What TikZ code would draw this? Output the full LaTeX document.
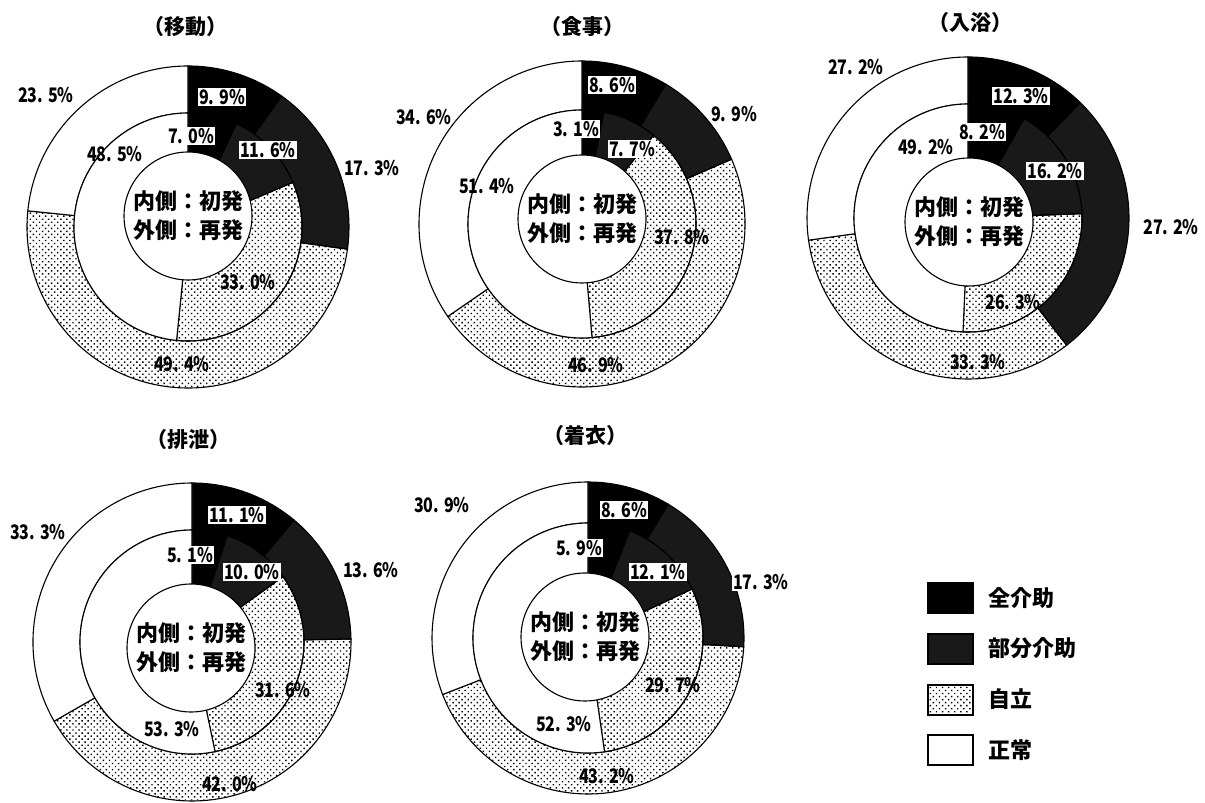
\documentclass[tikz,border=0pt]{standalone}
\usepackage{fontspec}
\setmainfont{Noto Sans CJK JP}
\newfontfamily\numfont[FakeStretch=0.8]{Noto Sans CJK JP}
\usetikzlibrary{patterns.meta}
\tikzset{
  segline/.style={draw=black, line width=1.1pt},
  dotfill/.style={pattern={Dots[distance=4.3pt,radius=1pt,angle=45]}},
  zen/.style={segline, fill=black},
  bubun/.style={segline, fill=black!90},
  jiritsu/.style={segline, dotfill},
  seijo/.style={segline, fill=white},
  hole/.style={draw=black, line width=1.1pt, fill=white, circle, minimum size=128pt, inner sep=0pt,
               font=\bfseries\fontsize{22}{29}\selectfont, align=center},
  pct/.style={font=\numfont\bfseries\fontsize{20}{22}\selectfont, inner sep=1pt},
  pctbox/.style={pct, fill=white},
  ttl/.style={font=\bfseries\fontsize{21}{24}\selectfont, inner sep=0pt},
  legbox/.style={draw=black, line width=1.5pt, minimum width=45pt, minimum height=30pt, inner sep=0pt},
  legtxt/.style={font=\bfseries\fontsize{22}{24}\selectfont, anchor=west, inner sep=0pt},
}
% ring segment: cx, cy, r-in, r-out, from %, to %, style
\newcommand\rseg[7]{%
  \pgfmathsetmacro\ringA{90-3.6*#5}%
  \pgfmathsetmacro\ringB{90-3.6*#6}%
  \draw[#7] ([shift={(\ringA:#4)}]#1,#2) arc[start angle=\ringA, end angle=\ringB, radius=#4]
    -- ([shift={(\ringB:#3)}]#1,#2) arc[start angle=\ringB, end angle=\ringA, radius=#3] -- cycle;}
% outer ring: cx, cy, R, rm, cumulative 1,2,3
\newcommand\outerring[7]{%
  \rseg{#1}{#2}{#4}{#3}{0}{#5}{zen}%
  \rseg{#1}{#2}{#4}{#3}{#5}{#6}{bubun}%
  \rseg{#1}{#2}{#4}{#3}{#6}{#7}{jiritsu}%
  \rseg{#1}{#2}{#4}{#3}{#7}{100}{seijo}}
% inner ring: cx, cy, rm, cumulative 1,2,3
\newcommand\innerring[6]{%
  \rseg{#1}{#2}{38}{#3}{0}{#4}{zen}%
  \rseg{#1}{#2}{38}{#3}{#4}{#5}{bubun}%
  \rseg{#1}{#2}{38}{#3}{#5}{#6}{jiritsu}%
  \rseg{#1}{#2}{38}{#3}{#6}{100}{seijo}}
\begin{document}
\begin{tikzpicture}[x=1pt,y=1pt]
\fill[white] (0,0) rectangle (1205,803);
\useasboundingbox (0,0) rectangle (1205,803);

% ---------- Chart 1: 移動 ----------
\outerring{188}{576}{161}{114}{9.9}{27.2}{76.6}
\innerring{188}{576}{114}{7.0}{18.6}{51.6}
\node[hole] (h1) at (188,587) {内側：初発\\外側：再発};
\node[ttl] (t1) at (185,776) {（移動）};
\node[pct] (p1a) at (46,708) {23. 5\%};
\node[pctbox] (p1b) at (222,706) {9. 9\%};
\node[pctbox] (p1c) at (191,667) {7. 0\%};
\node[pct] (p1d) at (115,649) {48. 5\%};
\node[pctbox] (p1e) at (268,653) {11. 6\%};
\node[pct] (p1f) at (372,635) {17. 3\%};
\node[pct] (p1g) at (248,521) {33. 0\%};
\node[pct] (p1h) at (182,439) {49. 4\%};

% ---------- Chart 2: 食事 ----------
\outerring{582}{579}{163}{114}{8.6}{18.5}{65.4}
\innerring{582}{579}{114}{3.1}{10.8}{48.6}
\node[hole] (h2) at (582,584) {内側：初発\\外側：再発};
\node[ttl] (t2) at (582,776) {（食事）};
\node[pct] (p2a) at (424,686) {34. 6\%};
\node[pctbox] (p2b) at (612,718) {8. 6\%};
\node[pct] (p2c) at (734,689) {9. 9\%};
\node[pctbox] (p2d) at (576,674) {3. 1\%};
\node[pctbox] (p2e) at (632,654) {7. 7\%};
\node[pct] (p2f) at (487,617) {51. 4\%};
\node[pct] (p2g) at (682,566) {37. 8\%};
\node[pct] (p2h) at (596,438) {46. 9\%};

% ---------- Chart 3: 入浴 ----------
\outerring{968}{585}{161}{114}{12.3}{39.5}{72.8}
\innerring{968}{585}{114}{8.2}{24.4}{50.7}
\node[hole] (h3) at (969,581) {内側：初発\\外側：再発};
\node[ttl] (t3) at (970,780) {（入浴）};
\node[pct] (p3a) at (856,736) {27. 2\%};
\node[pctbox] (p3b) at (1021,707) {12. 3\%};
\node[pctbox] (p3c) at (982,671) {8. 2\%};
\node[pct] (p3d) at (926,656) {49. 2\%};
\node[pctbox] (p3e) at (1055,632) {16. 2\%};
\node[pct] (p3f) at (1171,576) {27. 2\%};
\node[pct] (p3g) at (1013,501) {26. 3\%};
\node[pct] (p3h) at (978,441) {33. 3\%};

% ---------- Chart 4: 排泄 ----------
\outerring{192}{161}{159}{112}{11.1}{24.7}{66.7}
\innerring{192}{161}{112}{5.1}{15.1}{46.7}
\node[hole] (h4) at (191,155) {内側：初発\\外側：再発};
\node[ttl] (t4) at (188,363) {（排泄）};
\node[pct] (p4a) at (38,271) {33. 3\%};
\node[pctbox] (p4b) at (237,288) {11. 1\%};
\node[pctbox] (p4c) at (190,248) {5. 1\%};
\node[pctbox] (p4d) at (252,231) {10. 0\%};
\node[pct] (p4e) at (371,233) {13. 6\%};
\node[pct] (p4f) at (283,113) {31. 6\%};
\node[pct] (p4g) at (172,74) {53. 3\%};
\node[pct] (p4h) at (230,19) {42. 0\%};

% ---------- Chart 5: 着衣 ----------
\outerring{588}{165}{156}{115}{8.6}{25.9}{69.1}
\innerring{588}{165}{115}{5.9}{18.0}{47.7}
\node[hole] (h5) at (585,166) {内側：初発\\外側：再発};
\node[ttl] (t5) at (585,367) {（着衣）};
\node[pct] (p5a) at (442,298) {30. 9\%};
\node[pctbox] (p5b) at (624,293) {8. 6\%};
\node[pctbox] (p5c) at (579,255) {5. 9\%};
\node[pctbox] (p5d) at (658,231) {12. 1\%};
\node[pctbox] (p5e) at (761,221) {17. 3\%};
\node[pct] (p5f) at (673,118) {29. 7\%};
\node[pct] (p5g) at (564,79) {52. 3\%};
\node[pct] (p5h) at (607,27) {43. 2\%};

% ---------- Legend ----------
\node[legbox, fill=black] (lb1) at (950.5,205) {};
\node[legbox, fill=black!90] (lb2) at (950.5,154) {};
\node[legbox, dotfill] (lb3) at (950.5,103) {};
\node[legbox, fill=white] (lb4) at (950.5,53) {};
\node[legtxt] (lt1) at (988,205) {全介助};
\node[legtxt] (lt2) at (988,155) {部分介助};
\node[legtxt] (lt3) at (988,104) {自立};
\node[legtxt] (lt4) at (988,53) {正常};
\end{tikzpicture}
\end{document}
